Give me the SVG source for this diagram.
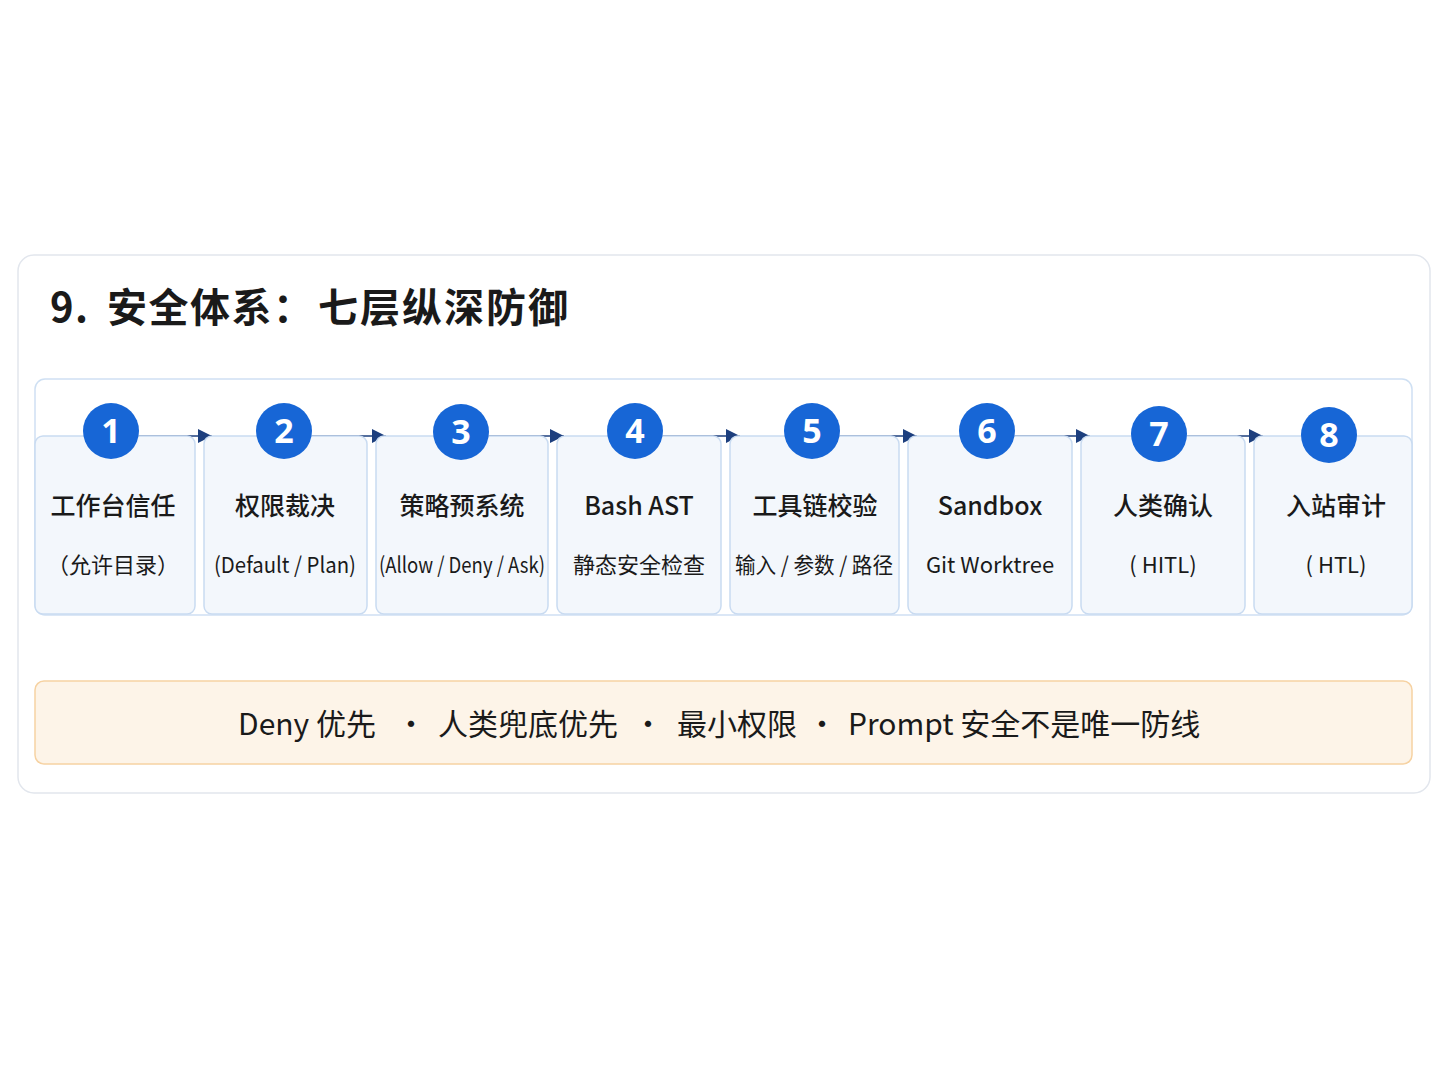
<svg xmlns="http://www.w3.org/2000/svg" width="1448" height="1086" viewBox="0 0 1448 1086">
<defs>
<style>
.t{font-family:"Noto Sans CJK SC","Noto Sans",sans-serif;fill:#1a1a1a}
.title{font-size:40px;font-weight:700;letter-spacing:1.5px}
.h{font-size:25px;font-weight:500;text-anchor:middle}
.s{font-size:22px;font-weight:400;text-anchor:middle}
.card{fill:#f3f7fc;stroke:#c9dbf1;stroke-width:1.5}
.dot{fill:#1766d6}
.num{font-family:"Noto Sans","Noto Sans CJK SC",sans-serif;font-size:34px;font-weight:700;fill:#fff;text-anchor:middle}
.conn{stroke:#1d3f7e;stroke-width:1.6;fill:none}
.b{font-size:30px;font-weight:400}
</style>
<marker id="ah" viewBox="0 0 10 10" refX="10" refY="5" markerWidth="17" markerHeight="14" markerUnits="userSpaceOnUse" orient="auto">
<path d="M0,0 L10,5 L0,10 z" fill="#1d3f7e"/>
</marker>
</defs>
<rect width="1448" height="1086" fill="#ffffff"/>
<rect x="18" y="255" width="1412" height="538" rx="16" fill="#ffffff" stroke="#e2e6ed" stroke-width="1.5"/>
<text class="t title" y="322"><tspan x="50">9.</tspan><tspan x="107">安全体系：</tspan><tspan x="318" letter-spacing="2">七层纵深防御</tspan></text>
<rect x="35" y="379" width="1377" height="236" rx="10" fill="#ffffff" stroke="#cfe0f3" stroke-width="1.5"/>

<g id="connectors">
<line class="conn" x1="139" y1="436" x2="212" y2="436" marker-end="url(#ah)"/>
<line class="conn" x1="312" y1="436" x2="386" y2="436" marker-end="url(#ah)"/>
<line class="conn" x1="489" y1="436" x2="564" y2="436" marker-end="url(#ah)"/>
<line class="conn" x1="663" y1="436" x2="740" y2="436" marker-end="url(#ah)"/>
<line class="conn" x1="840" y1="436" x2="917" y2="436" marker-end="url(#ah)"/>
<line class="conn" x1="1015" y1="436" x2="1090" y2="436" marker-end="url(#ah)"/>
<line class="conn" x1="1187" y1="436" x2="1263" y2="436" marker-end="url(#ah)"/>
</g>

<g id="n1">
<rect class="card" x="35" y="436" width="160" height="178" rx="8"/>
<circle class="dot" cx="111" cy="431" r="28"/>
<text class="num" x="111" y="443">1</text>
<text class="t h" x="113" y="515">工作台信任</text>
<text class="t s" x="113" y="573">（允许目录）</text>
</g>
<g id="n2">
<rect class="card" x="204" y="436" width="163" height="178" rx="8"/>
<circle class="dot" cx="284" cy="431" r="28"/>
<text class="num" x="284" y="443">2</text>
<text class="t h" x="285" y="515">权限裁决</text>
<text class="t s" x="285" y="573" textLength="142" lengthAdjust="spacingAndGlyphs">(Default / Plan)</text>
</g>
<g id="n3">
<rect class="card" x="376" y="436" width="172" height="178" rx="8"/>
<circle class="dot" cx="461" cy="432" r="28"/>
<text class="num" x="461" y="444">3</text>
<text class="t h" x="462" y="515">策略预系统</text>
<text class="t s" x="462" y="573" textLength="166" lengthAdjust="spacingAndGlyphs">(Allow / Deny / Ask)</text>
</g>
<g id="n4">
<rect class="card" x="557" y="436" width="164" height="178" rx="8"/>
<circle class="dot" cx="635" cy="431" r="28"/>
<text class="num" x="635" y="443">4</text>
<text class="t h" x="639" y="515">Bash AST</text>
<text class="t s" x="639" y="573">静态安全检查</text>
</g>
<g id="n5">
<rect class="card" x="730" y="436" width="169" height="178" rx="8"/>
<circle class="dot" cx="812" cy="431" r="28"/>
<text class="num" x="812" y="443">5</text>
<text class="t h" x="815" y="515">工具链校验</text>
<text class="t s" x="814" y="573" textLength="158" lengthAdjust="spacingAndGlyphs">输入 / 参数 / 路径</text>
</g>
<g id="n6">
<rect class="card" x="908" y="436" width="164" height="178" rx="8"/>
<circle class="dot" cx="987" cy="431" r="28"/>
<text class="num" x="987" y="443">6</text>
<text class="t h" x="990" y="515">Sandbox</text>
<text class="t s" x="990" y="573">Git Worktree</text>
</g>
<g id="n7">
<rect class="card" x="1081" y="436" width="164" height="178" rx="8"/>
<circle class="dot" cx="1159" cy="434" r="28"/>
<text class="num" x="1159" y="446">7</text>
<text class="t h" x="1163" y="515">人类确认</text>
<text class="t s" x="1163" y="573">( HITL)</text>
</g>
<g id="n8">
<rect class="card" x="1254" y="436" width="158" height="178" rx="8"/>
<circle class="dot" cx="1329" cy="435" r="28"/>
<text class="num" x="1329" y="447">8</text>
<text class="t h" x="1336" y="515">入站审计</text>
<text class="t s" x="1336" y="573">( HTL)</text>
</g>

<g id="banner">
<rect x="35" y="681" width="1377" height="83" rx="9" fill="#fdf4e8" stroke="#f6d2a2" stroke-width="1.5"/>
<text class="t b" y="735"><tspan x="238">Deny 优先</tspan><tspan x="396">·</tspan><tspan x="438">人类兜底优先</tspan><tspan x="633">·</tspan><tspan x="677">最小权限</tspan><tspan x="807">·</tspan><tspan x="848">Prompt 安全不是唯一防线</tspan></text>
</g>
</svg>
